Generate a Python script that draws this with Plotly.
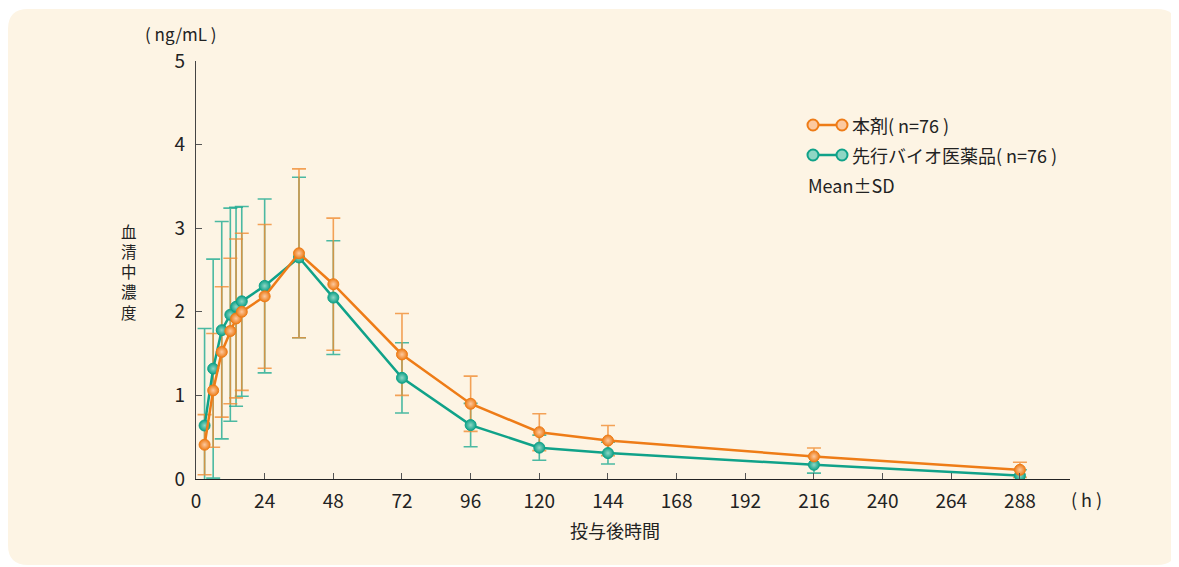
import plotly.graph_objects as go

# ---- data ----
hours = [3, 6, 9, 12, 14, 16, 24, 36, 48, 72, 96, 120, 144, 216, 288]
test_mean = [0.41, 1.06, 1.52, 1.77, 1.92, 2.00, 2.185, 2.70, 2.33, 1.49, 0.90, 0.56, 0.46, 0.27, 0.11]
test_sd = [0.36, 0.68, 0.78, 0.87, 0.95, 0.94, 0.86, 1.01, 0.79, 0.49, 0.33, 0.22, 0.18, 0.10, 0.09]
ref_mean = [0.64, 1.32, 1.78, 1.965, 2.06, 2.125, 2.31, 2.65, 2.17, 1.21, 0.645, 0.375, 0.31, 0.17, 0.04]
ref_sd = [1.16, 1.31, 1.30, 1.275, 1.19, 1.135, 1.04, 0.96, 0.68, 0.42, 0.26, 0.15, 0.13, 0.10, 0.07]

x_ticks = [0, 24, 48, 72, 96, 120, 144, 168, 192, 216, 240, 264, 288]
y_ticks = [0, 1, 2, 3, 4, 5]

test_name = "本剤( n=76 )"
ref_name = "先行バイオ医薬品( n=76 )"
note_text = "Mean±SD"
x_title = "投与後時間"
y_title = "血<br>清<br>中<br>濃<br>度"
y_unit = "( ng/mL )"
x_unit = "( h )"

ORANGE = "#ee7c17"
ORANGE_LIGHT = "#fcc9a0"
ORANGE_ERR = "rgba(240,140,50,0.80)"
TEAL = "#10a289"
TEAL_LIGHT = "#8fd6c4"
TEAL_ERR = "rgba(30,170,145,0.80)"
FONT = "Noto Sans CJK JP"

OFF = 8  # page body margin
W, H = 1171, 559
L, R, T, B = 188, 109, 53, 88
PW, PH = W - L - R, H - T - B

fig = go.Figure()

# error bars (drawn beneath lines/markers)
for mean, sd, col in [(ref_mean, ref_sd, TEAL_ERR), (test_mean, test_sd, ORANGE_ERR)]:
    fig.add_trace(go.Scatter(
        x=hours, y=mean, mode="markers",
        marker=dict(size=1, color="rgba(0,0,0,0)"),
        error_y=dict(type="data", array=sd, visible=True, color=col, thickness=1.6, width=7),
        showlegend=False, hoverinfo="skip"))

for mean, col, light, name in [(ref_mean, TEAL, TEAL_LIGHT, ref_name),
                               (test_mean, ORANGE, ORANGE_LIGHT, test_name)]:
    fig.add_trace(go.Scatter(
        x=hours, y=mean, mode="lines+markers", name=name,
        line=dict(color=col, width=2.5),
        marker=dict(size=11, color=col, symbol="circle",
                    gradient=dict(type="radial", color=light),
                    line=dict(color=col, width=1)),
        showlegend=False))


def px2paper(sx, sy):
    fx, fy = sx - OFF, sy - OFF
    return (fx - L) / PW, (H - B - fy) / PH


shapes = []
# cream rounded panel (screen 8..1177 x 9..565)
x0p, x1p = 0 - L, 1169 - L
y0p, y1p = (H - B) - 557, (H - B) - 1
r = 20
path = (f"M {x0p + r},{y0p} L {x1p - r},{y0p} Q {x1p},{y0p} {x1p},{y0p + r} "
        f"L {x1p},{y1p - r} Q {x1p},{y1p} {x1p - r},{y1p} L {x0p + r},{y1p} "
        f"Q {x0p},{y1p} {x0p},{y1p - r} L {x0p},{y0p + r} Q {x0p},{y0p} {x0p + r},{y0p} Z")
shapes.append(dict(type="path", xref="paper", yref="paper", xsizemode="pixel", ysizemode="pixel",
                   xanchor=0, yanchor=0, path=path, fillcolor="#fdf4e4", line=dict(width=0),
                   layer="below"))

annotations = []
# legend rows
for (py, col, light, name) in [(125, ORANGE, ORANGE_LIGHT, test_name), (155, TEAL, TEAL_LIGHT, ref_name)]:
    ax0, ay = px2paper(813, py)
    ax1, _ = px2paper(842, py)
    shapes.append(dict(type="line", xref="paper", yref="paper", x0=ax0, x1=ax1, y0=ay, y1=ay,
                       line=dict(color=col, width=2.5)))
    for ax in (ax0, ax1):
        shapes.append(dict(type="circle", xref="paper", yref="paper", xsizemode="pixel",
                           ysizemode="pixel", xanchor=ax, yanchor=ay, x0=-5.5, x1=5.5, y0=-5.5, y1=5.5,
                           fillcolor=light, line=dict(color=col, width=2)))
    tx, ty = px2paper(850, py)
    annotations.append(dict(x=tx, y=ty, xref="paper", yref="paper", text=name, showarrow=False,
                            xanchor="left", yanchor="middle", font=dict(size=18, color="#222")))
mx, my = px2paper(806, 185)
annotations.append(dict(x=mx, y=my, xref="paper", yref="paper", text=note_text, showarrow=False,
                        xanchor="left", yanchor="middle", font=dict(size=18, color="#222")))

# axis titles / units
ux, uy = px2paper(181, 34)
annotations.append(dict(x=ux, y=uy, xref="paper", yref="paper", text=y_unit, showarrow=False,
                        xanchor="center", yanchor="middle", font=dict(size=17, color="#222")))
hx, hy = px2paper(1086, 499)
annotations.append(dict(x=hx, y=hy, xref="paper", yref="paper", text=x_unit, showarrow=False,
                        xanchor="center", yanchor="middle", font=dict(size=18, color="#222")))
tx, ty = px2paper(615, 530)
annotations.append(dict(x=tx, y=ty, xref="paper", yref="paper", text=x_title, showarrow=False,
                        xanchor="center", yanchor="middle", font=dict(size=18, color="#222")))
cx, cy = px2paper(128.5, 271)
annotations.append(dict(x=cx, y=cy, xref="paper", yref="paper", text=y_title, showarrow=False,
                        xanchor="center", yanchor="middle", font=dict(size=15.5, color="#222")))

fig.update_layout(
    width=W, height=H,
    margin=dict(l=L, r=R, t=T, b=B),
    paper_bgcolor="white", plot_bgcolor="rgba(0,0,0,0)",
    font=dict(family=FONT, color="#222"),
    shapes=shapes, annotations=annotations,
    showlegend=False,
)
fig.update_xaxes(range=[0, 305.5], tickvals=x_ticks, ticktext=[str(v) for v in x_ticks],
                 showgrid=False, zeroline=False, showline=True, linecolor="#222", linewidth=1.3,
                 ticks="inside", ticklen=6, tickcolor="#555", tickwidth=1.3,
                 tickfont=dict(size=19, color="#222"), ticklabelstandoff=5, automargin=False)
fig.update_yaxes(range=[0, 5], tickvals=y_ticks, ticktext=[str(v) for v in y_ticks],
                 showgrid=False, zeroline=False, showline=True, linecolor="#444", linewidth=1.3,
                 ticks="inside", ticklen=6, tickcolor="#555", tickwidth=1.3,
                 tickfont=dict(size=19, color="#222"), ticklabelstandoff=6, automargin=False)

fig.write_html("out.html")
